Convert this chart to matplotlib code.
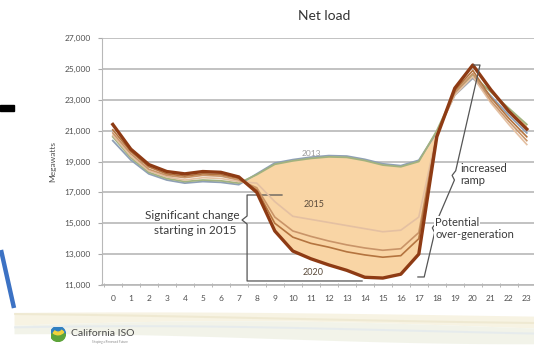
import numpy as np
import matplotlib.pyplot as plt
from matplotlib.patches import Rectangle, Wedge

plt.rcParams['font.family'] = ['Lato', 'DejaVu Sans']

# hourly net load (MW) for a typical spring day
hours = list(range(24))
load_2012 = [20350, 19100, 18200, 17800, 17600, 17700, 17650, 17500, 18200, 18900, 19120, 19280,
             19380, 19350, 19140, 18850, 18730, 19080, 20900, 23300, 24400, 23250, 22000, 20850]
load_2013 = [20600, 19250, 18300, 17900, 17700, 17800, 17750, 17600, 18150, 18820, 19040, 19200,
             19300, 19270, 19060, 18770, 18660, 19000, 21000, 23500, 24600, 23500, 22450, 21400]
load_2015 = [20700, 19350, 18400, 18000, 17800, 17950, 17900, 17700, 17600, 16400, 15450, 15250,
             15050, 14850, 14650, 14450, 14550, 15400, 20800, 23300, 24500, 22800, 21400, 20100]
load_2017 = [20850, 19500, 18500, 18100, 17950, 18100, 18050, 17800, 17300, 15400, 14500, 14150,
             13850, 13600, 13400, 13250, 13350, 14400, 20750, 23450, 24700, 22950, 21600, 20350]
load_2019 = [21050, 19650, 18650, 18200, 18050, 18200, 18150, 17900, 17150, 15000, 14100, 13700,
             13450, 13150, 12950, 12800, 12900, 14000, 20700, 23600, 24900, 23150, 21800, 20600]
load_2020 = [21400, 19800, 18800, 18350, 18200, 18350, 18300, 18000, 17000, 14500, 13200, 12700,
             12300, 11950, 11500, 11450, 11700, 13000, 20600, 23750, 25250, 23650, 22250, 21100]

yticks = [11000, 13000, 15000, 17000, 19000, 21000, 23000, 25000, 27000]
ink = '#505050'

fig = plt.figure(figsize=(5.34, 3.48), dpi=100)
ax = fig.add_axes([102 / 534, 63 / 348, 432 / 534, 247 / 348])

h = np.array(hours)
top = np.array(load_2013)
bottom = np.array(load_2020)
ax.fill_between(h, top, bottom, where=top > bottom, interpolate=True,
                color='#F9D5A5', lw=0, zorder=1)

ax.plot(h, load_2012, color='#8FA0B6', lw=1.3, zorder=3)
ax.plot(h, load_2013, color='#A2B27E', lw=1.3, zorder=3)
ax.plot(h, load_2015, color='#E4C0A2', lw=1.2, zorder=3)
ax.plot(h, load_2017, color='#C99468', lw=1.2, zorder=3)
ax.plot(h, load_2019, color='#B4743F', lw=1.2, zorder=3)
ax.plot(h, load_2020, color='#8E3B14', lw=2.4, zorder=4)

ax.set_xlim(-0.6, 23.4)
ax.set_ylim(11000, 27000)
ax.set_yticks(yticks)
ax.set_yticklabels([f'{v:,}' for v in yticks], fontsize=6, color=ink)
ax.set_xticks(hours)
ax.set_xticklabels([str(x) for x in hours], fontsize=6, color=ink)
ax.set_xticks(np.arange(-0.5, 23.5, 1.0), minor=True)
ax.tick_params(axis='x', which='major', length=0, pad=7)
ax.tick_params(axis='x', which='minor', length=2.5, color='#AAAAAA', direction='inout')
ax.tick_params(axis='y', length=3, color='#AAAAAA', pad=5)
ax.grid(axis='y', color='#B8B8B8', lw=1.2)
ax.set_axisbelow(True)
for side in ['top', 'right']:
    ax.spines[side].set_visible(False)
ax.spines['left'].set_color('#B8B8B8')
ax.spines['bottom'].set_color('#B8B8B8')
ax.spines['bottom'].set_linewidth(1.2)
ax.set_ylabel('Megawatts', fontsize=6, color=ink, labelpad=6)
ax.set_title('Net load', fontsize=10, color='#333333', pad=13, x=0.515)

# year labels
ax.text(11.05, 19550, '2013', fontsize=6, color='#9A9A9A', ha='center', va='center', zorder=5)
ax.text(11.2, 16200, '2015', fontsize=6.5, color='#5A4A3A', ha='center', va='center', zorder=5)
ax.text(11.1, 11800, '2020', fontsize=6.5, color='#5A4A3A', ha='center', va='center', zorder=5)

# bracket around the midday drop
br = dict(color='#555555', lw=0.9, clip_on=False, zorder=2)
ax.plot([9.4, 7.46, 7.46, 7.18, 7.46, 7.46, 13.85],
        [16830, 16830, 15470, 15210, 14950, 11260, 11260], **br)
wb = dict(facecolor='white', edgecolor='none', pad=0.6)
ax.text(4.4, 15480, 'Significant change', fontsize=8.5, color='#3A3A3A',
        ha='center', va='center', bbox=wb, zorder=5)
ax.text(4.55, 14560, 'starting in 2015', fontsize=8.5, color='#3A3A3A',
        ha='center', va='center', bbox=wb, zorder=5)

# bracket for evening ramp and over-generation
ax.plot([20.05, 20.4, 19.05, 18.85, 18.98, 17.95, 17.75, 17.88, 17.3, 16.95],
        [25250, 25250, 18400, 18100, 17800, 15000, 14700, 14400, 11520, 11520],
        color='#555555', lw=0.9, clip_on=False, zorder=5)
ax.text(19.3, 18550, 'increased', fontsize=8, color='#3A3A3A', ha='left', va='center', zorder=5)
ax.text(19.3, 17750, 'ramp', fontsize=8, color='#3A3A3A', ha='left', va='center', zorder=5)
ax.text(17.9, 15050, 'Potential', fontsize=8, color='#3A3A3A', ha='left', va='center',
        bbox=wb, zorder=5)
ax.text(17.9, 14250, 'over-generation', fontsize=8, color='#3A3A3A', ha='left', va='center',
        bbox=wb, zorder=5)

# slide decorations
fig.add_artist(Rectangle((0, 1 - 111 / 348), 14 / 534, 6 / 348,
                         transform=fig.transFigure, color='black'))
fig.add_artist(plt.Line2D([1 / 534, 14 / 534], [1 - 250 / 348, 1 - 308 / 348],
                          transform=fig.transFigure, color='#3C72C4', lw=3.2,
                          solid_capstyle='butt'))

band = fig.add_axes([14 / 534, 0, 520 / 534, 42 / 348])
band.set_xlim(0, 1)
band.set_ylim(0, 1)
band.axis('off')
t = np.linspace(0, 1, 200)
band.fill_between(t, 0.5 + 0.15 * np.sin(3.0 * t + 0.3), 0.78 + 0.08 * np.sin(2.4 * t + 1.0),
                  color='#F6F1DF', alpha=0.85, lw=0)
band.fill_between(t, 0.22 + 0.12 * np.sin(3.4 * t + 1.4), 0.5 + 0.15 * np.sin(3.0 * t + 0.3),
                  color='#F0F2E6', alpha=0.85, lw=0)
band.plot(t, 0.7 + 0.12 * np.sin(2.2 * t + 2.0), color='#ECE6CC', lw=1.5, alpha=0.7)
band.plot(t, 0.42 + 0.1 * np.sin(3.2 * t + 0.8), color='#E2E9EE', lw=1.5, alpha=0.7)

# logo
cx, cy, r = 58 / 534, 1 - 334 / 348, 7.5
logo = fig.add_axes([cx - r / 534, cy - r / 348, 2 * r / 534, 2 * r / 348])
logo.set_xlim(-1, 1)
logo.set_ylim(-1, 1)
logo.axis('off')
logo.add_patch(Wedge((0, 0), 1, 0, 180, color='#2F7FC1'))
logo.add_patch(Wedge((0, 0), 1, 180, 360, color='#5DA43A'))
logo.add_patch(Wedge((0, 0.9), 1.0, 230, 320, width=0.35, color='#F2D33B'))
fig.text(71 / 534, 1 - 334 / 348, 'California ISO', fontsize=7.5, color='#4A4A4A',
         ha='left', va='center')
fig.text(92 / 534, 1 - 342.5 / 348, 'Shaping a Renewed Future', fontsize=2.2,
         color='#888888', ha='left', va='center')

plt.savefig('out.png', dpi=100)
plt.close()
